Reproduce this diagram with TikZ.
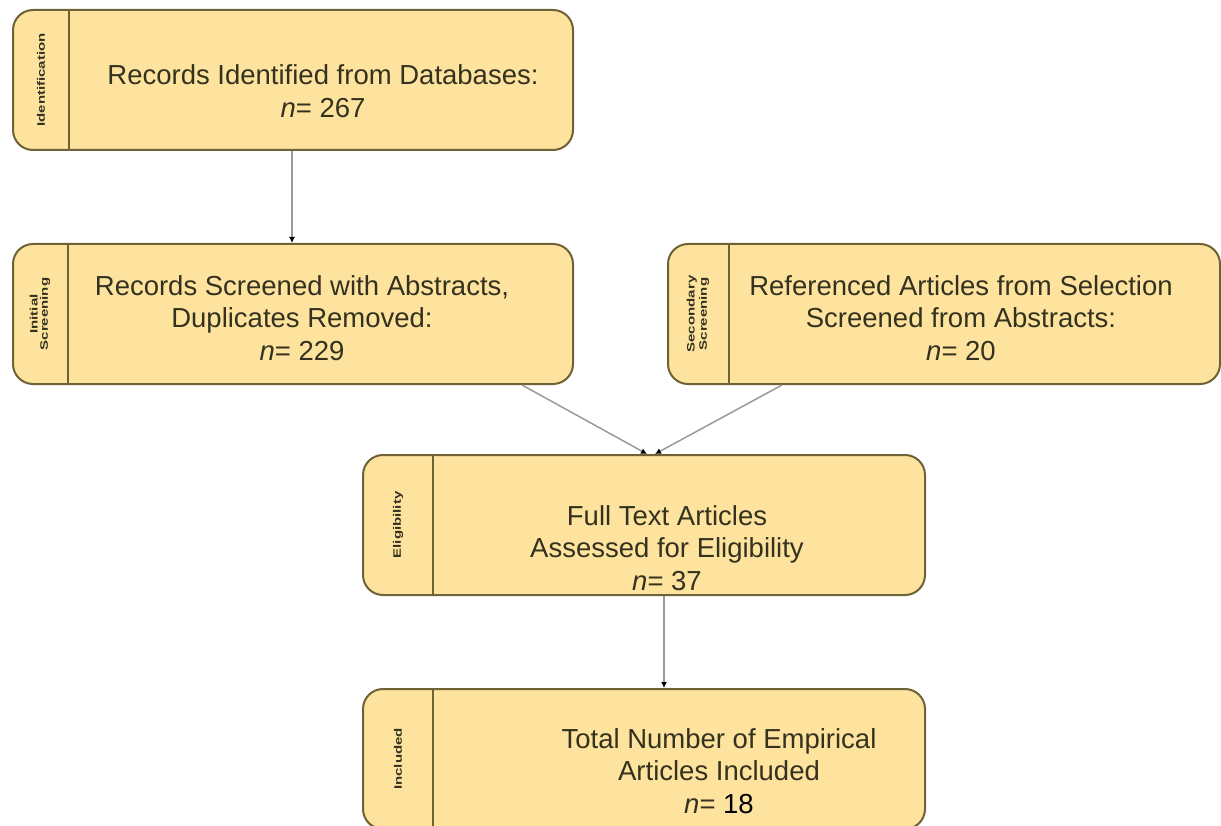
\documentclass[tikz,border=0pt]{standalone}
\usepackage{fontspec}
\setmainfont{Liberation Sans}
\usetikzlibrary{arrows.meta,calc}
\definecolor{boxfill}{HTML}{FDE39E}
\definecolor{boxdraw}{HTML}{6E6236}
\definecolor{txt}{HTML}{34321F}
\definecolor{conncol}{HTML}{9A9A9A}
\tikzset{
  box/.style={draw=boxdraw, fill=boxfill, line width=2pt, rounded corners=20pt, anchor=north west, inner sep=0pt},
  divider/.style={draw=boxdraw, line width=2pt},
  side/.style={rotate=90, font=\fontsize{15}{16}\selectfont\bfseries, text=txt, align=center, inner sep=0pt},
  maintext/.style={font=\fontsize{27.5}{32.5}\selectfont, text=txt, align=center, inner sep=0pt},
  conn/.style={draw=conncol, line width=1.5pt, -{Latex[length=6pt,width=6pt,black]}}
}
\newcommand{\sq}[1]{\scalebox{1}[0.72]{#1}}
\begin{document}
\begin{tikzpicture}[x=1pt,y=-1pt]
\useasboundingbox (0,0) rectangle (1221,826);
\clip (0,0) rectangle (1221,826);
% Box 1
\node[box, minimum width=560pt, minimum height=140pt] (b1) at (12,9) {};
\draw[divider] ([xshift=57pt]b1.north west) -- ([xshift=57pt]b1.south west);
\node[side] (s1) at ([xshift=29pt]b1.west) {\sq{Identification}};
\node[maintext] (t1) at (323,91) {Records Identified from Databases:\\\textit{n}= 267};
% Box 2
\node[box, minimum width=560pt, minimum height=140pt] (b2) at (12,243) {};
\draw[divider] ([xshift=56pt]b2.north west) -- ([xshift=56pt]b2.south west);
\node[side] (s2) at ([xshift=28pt]b2.west) {\sq{\shortstack{Initial\\Screening}}};
\node[maintext] (t2) at (302,318) {Records Screened with Abstracts,\\Duplicates Removed:\\\textit{n}= 229};
% Box 3
\node[box, minimum width=552pt, minimum height=140pt] (b3) at (667,243) {};
\draw[divider] ([xshift=62pt]b3.north west) -- ([xshift=62pt]b3.south west);
\node[side] (s3) at ([xshift=31pt]b3.west) {\sq{\shortstack{Secondary\\Screening}}};
\node[maintext] (t3) at (961,318) {Referenced Articles from Selection\\Screened from Abstracts:\\\textit{n}= 20};
% Box 4
\node[box, minimum width=562pt, minimum height=140pt] (b4) at (362,454) {};
\draw[divider] ([xshift=71pt]b4.north west) -- ([xshift=71pt]b4.south west);
\node[side] (s4) at ([xshift=36pt]b4.west) {\sq{Eligibility}};
\node[maintext] (t4) at (667,548) {Full Text Articles\\Assessed for Eligibility\\\textit{n}= 37};
% Box 5
\node[box, minimum width=562pt, minimum height=140pt] (b5) at (362,688) {};
\draw[divider] ([xshift=71pt]b5.north west) -- ([xshift=71pt]b5.south west);
\node[side] (s5) at ([xshift=36pt]b5.west) {\sq{Included}};
\node[maintext] (t5) at (719,771) {Total Number of Empirical\\Articles Included\\\textit{n}= \textcolor{black}{18}};
% Connectors
\coordinate (a1) at ($(b1.south west)+(280,0)$);
\draw[conn] (a1) -- (a1 |- b2.north);
\coordinate (a2s) at ($(b2.south west)+(510,0)$);
\coordinate (a2e) at ($(b4.north west)+(285,0)$);
\draw[conn] (a2s) -- (a2e);
\coordinate (a3s) at ($(b3.south west)+(115,0)$);
\coordinate (a3e) at ($(b4.north west)+(293,0)$);
\draw[conn] (a3s) -- (a3e);
\coordinate (a4) at ($(b4.south west)+(302,0)$);
\draw[conn] (a4) -- (a4 |- b5.north);
\end{tikzpicture}
\end{document}
